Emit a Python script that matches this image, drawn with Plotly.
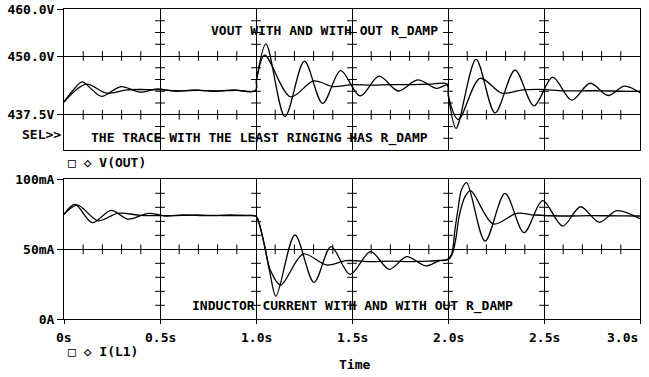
import plotly.graph_objects as go

W, H = 649, 377

# ---------------- data ----------------
# Top panel: V(OUT) [V]
t_v_ring = [0, 0.045, 0.095, 0.147, 0.196, 0.297, 0.396, 0.485, 0.58, 0.68, 0.78, 0.88, 0.998,
            1.003, 1.052, 1.151, 1.252, 1.347, 1.441, 1.542, 1.641, 1.741, 1.842, 1.941, 1.997,
            2.003, 2.042, 2.146, 2.245, 2.349, 2.448, 2.545, 2.644, 2.74, 2.835, 2.918, 3.0]
v_ring = [440.2, 442.6, 444.5, 442.8, 441.4, 443.5, 442.3, 443.0, 442.5, 442.8, 442.5, 442.8, 442.6,
          445.0, 452.6, 437.1, 448.9, 439.9, 446.9, 441.5, 445.7, 442.55, 444.9, 443.1, 443.8,
          441.3, 434.6, 449.3, 437.9, 447.0, 439.4, 445.5, 440.6, 444.2, 441.6, 443.6, 442.2]

t_v_damp = [0, 0.115, 0.222, 0.33, 0.5, 0.6, 0.7, 0.8, 0.9, 0.998,
            1.003, 1.045, 1.18, 1.30, 1.40, 1.5, 1.6, 1.7, 1.8, 1.9, 1.997,
            2.003, 2.054, 2.167, 2.28, 2.39, 2.48, 2.6, 2.7, 2.8, 2.9, 3.0]
v_damp = [440.2, 444.0, 442.1, 442.8, 442.8, 442.6, 442.7, 442.6, 442.7, 442.6,
          445.0, 450.2, 441.3, 444.7, 443.5, 443.9, 443.8, 443.9, 443.9, 444.0, 444.0,
          441.3, 436.5, 445.25, 442.1, 442.8, 442.9, 442.6, 442.6, 442.6, 442.5, 442.5]

# Bottom panel: I(L1) [mA]
t_i_ring = [0, 0.057, 0.147, 0.245, 0.335, 0.44, 0.53, 0.62, 0.75, 0.87, 0.95, 1.0,
            1.021, 1.047, 1.073, 1.104, 1.203, 1.302, 1.391, 1.49, 1.597, 1.694, 1.785, 1.885, 1.95, 2.0,
            2.02, 2.036, 2.054, 2.07, 2.097, 2.193, 2.297, 2.396, 2.493, 2.597, 2.69, 2.788, 2.88, 3.0]
i_ring = [75.0, 82.1, 69.0, 77.8, 71.5, 75.7, 73.8, 74.6, 74.0, 74.5, 74.0, 73.6,
          66.1, 50.7, 32.9, 16.6, 60.2, 26.4, 51.9, 32.1, 48.3, 35.7, 44.7, 38.1, 41.5, 43.0,
          47.1, 63.8, 80.4, 92.4, 97.6, 55.9, 90.0, 61.9, 84.7, 66.6, 80.4, 69.3, 77.6, 71.8]

t_i_damp = [0, 0.07, 0.178, 0.28, 0.4, 0.55, 0.7, 0.85, 0.95, 1.0,
            1.021, 1.047, 1.075, 1.128, 1.246, 1.368, 1.47, 1.6, 1.7, 1.8, 1.9, 1.95, 2.0,
            2.02, 2.04, 2.06, 2.09, 2.118, 2.236, 2.358, 2.45, 2.6, 2.75, 2.9, 3.0]
i_damp = [75.0, 81.6, 70.4, 75.7, 74.3, 74.0, 74.4, 74.0, 74.2, 73.6,
          66.5, 51.0, 35.0, 24.5, 46.6, 38.8, 41.9, 41.2, 41.5, 41.2, 41.5, 42.0, 42.5,
          46.0, 57.0, 75.0, 88.0, 91.9, 68.1, 75.7, 74.5, 73.8, 74.0, 73.9, 73.8]

# axis ticks / labels
x_major = [0, 0.5, 1.0, 1.5, 2.0, 2.5, 3.0]
x_labels = ["0s", "0.5s", "1.0s", "1.5s", "2.0s", "2.5s", "3.0s"]
x_minor = [0.1, 0.2, 0.3, 0.4, 0.6, 0.7, 0.8, 0.9, 1.1, 1.2, 1.3, 1.4, 1.6, 1.7, 1.8, 1.9,
           2.1, 2.2, 2.3, 2.4, 2.6, 2.7, 2.8, 2.9]
x_inner = [0.5, 1.0, 1.5, 2.0, 2.5]
v_major = [437.5, 450.0, 460.0]
v_labels = ["437.5V", "450.0V", "460.0V"]
v_minor = [432.5, 435.0, 440.0, 442.5, 445.0, 447.5, 452.5, 455.0, 457.5]
v_hgrid = [437.5, 450.0]
i_major = [0, 50, 100]
i_labels = ["0A", "50mA", "100mA"]
i_minor = [10, 20, 30, 40, 60, 70, 80, 90]
i_hgrid = [50]

# ---------------- figure ----------------
FONT = dict(family="DejaVu Sans Mono", size=13, color="black", weight="bold")
LINE = dict(color="black", width=1.3, shape="spline", smoothing=0.9)

fig = go.Figure()
fig.add_trace(go.Scatter(x=t_v_ring, y=v_ring, mode="lines", line=LINE, xaxis="x2", yaxis="y2"))
fig.add_trace(go.Scatter(x=t_v_damp, y=v_damp, mode="lines", line=LINE, xaxis="x2", yaxis="y2"))
fig.add_trace(go.Scatter(x=t_i_ring, y=i_ring, mode="lines", line=LINE, xaxis="x", yaxis="y"))
fig.add_trace(go.Scatter(x=t_i_damp, y=i_damp, mode="lines", line=LINE, xaxis="x", yaxis="y"))

# small cross ticks along the interior grid lines
def tick_marks(xs, ys, symbol, xa, ya):
    fig.add_trace(go.Scatter(
        x=xs, y=ys, mode="markers", xaxis=xa, yaxis=ya, hoverinfo="skip",
        marker=dict(symbol=symbol, size=7, color="black", line=dict(color="black", width=1))))

for g in v_hgrid:
    tick_marks(x_minor, [g] * len(x_minor), "line-ns", "x2", "y2")
for xv in x_inner:
    tick_marks([xv] * len(v_minor), v_minor, "line-ew", "x2", "y2")
for g in i_hgrid:
    tick_marks(x_minor, [g] * len(x_minor), "line-ns", "x", "y")
for xv in x_inner:
    tick_marks([xv] * len(i_minor), i_minor, "line-ew", "x", "y")

xdom = [64 / W, 640 / W]
ax_common = dict(showline=True, mirror=True, linecolor="black", linewidth=1,
                 showgrid=True, gridcolor="black", gridwidth=1, zeroline=False,
                 tickcolor="black", tickfont=FONT, automargin=False)

fig.update_layout(
    width=W, height=H, margin=dict(l=0, r=0, t=0, b=0, autoexpand=False),
    paper_bgcolor="white", plot_bgcolor="white", showlegend=False,
    xaxis=dict(domain=xdom, range=[0, 3], anchor="y", tickvals=x_major,
               showticklabels=False, ticks="outside", ticklen=4, **ax_common),
    yaxis=dict(domain=[1 - 319.3 / H, 1 - 179.3 / H], range=[0, 100], anchor="x",
               tickvals=i_major, ticktext=i_labels, ticks="outside", ticklen=6, **ax_common),
    xaxis2=dict(domain=xdom, range=[0, 3], anchor="y2", matches="x", tickvals=x_major,
                showticklabels=False, ticks="", **ax_common),
    yaxis2=dict(domain=[1 - 150 / H, 1 - 9 / H], range=[430, 460], anchor="x2",
                tickvals=v_major, ticktext=v_labels, ticks="outside", ticklen=6, **ax_common),
)

def txt(s, px, py, anchor="left"):
    fig.add_annotation(text=s, x=px / W, y=1 - py / H, xref="paper", yref="paper",
                       xanchor=anchor, yanchor="middle", showarrow=False, font=FONT)

txt("VOUT WITH AND WITH OUT R_DAMP", 209, 31)
txt("THE TRACE WITH THE LEAST RINGING HAS R_DAMP", 89, 137.5)
txt("SEL&gt;&gt;", 20, 134.5)
txt("□ ◇ V(OUT)", 66, 163)
txt("INDUCTOR CURRENT WITH AND WITH OUT R_DAMP", 190, 306)
txt("□ ◇ I(L1)", 66, 351)
txt("Time", 337, 364)

for xv, lab in zip(x_major, x_labels):
    px = 64 + xv / 3 * 576
    if xv == x_major[-1]:
        txt(lab, 640, 337, anchor="right")
    else:
        txt(lab, px, 337, anchor="center")

fig.write_html("out.html", config={"displayModeBar": False},
               post_script="document.body.style.margin='0';document.body.style.overflow='hidden';")
